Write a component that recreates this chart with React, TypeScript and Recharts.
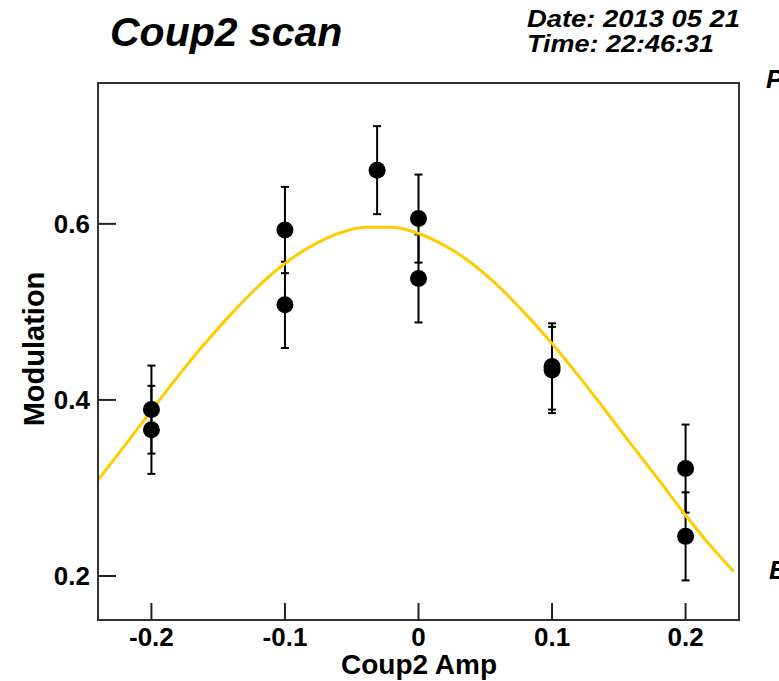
import React from "react";
import { ComposedChart, Line, Scatter, ErrorBar, XAxis, YAxis, ReferenceArea } from "recharts";

// scan points (Coup2 amplitude vs modulation)
const scanX = [-0.2, -0.2, -0.1, -0.1, -0.031, 0, 0, 0.1, 0.1, 0.2, 0.2];
const modulation = [0.389, 0.366, 0.593, 0.508, 0.661, 0.606, 0.538, 0.438, 0.434, 0.322, 0.245];
const modErr = [0.05, 0.05, 0.049, 0.049, 0.05, 0.05, 0.05, 0.049, 0.049, 0.05, 0.05];

// fitted curve
const fitX = [
  -0.24, -0.22, -0.2, -0.18, -0.16, -0.14, -0.12, -0.1, -0.08, -0.06, -0.04, -0.02,
  0, 0.02, 0.04, 0.06, 0.08, 0.1, 0.12, 0.14, 0.16, 0.18, 0.2, 0.22, 0.236,
];
const fitY = [
  0.309, 0.348, 0.388, 0.427, 0.464, 0.498, 0.529, 0.555, 0.575, 0.589, 0.596, 0.596,
  0.589, 0.575, 0.555, 0.529, 0.498, 0.464, 0.427, 0.388, 0.348, 0.309, 0.269, 0.232, 0.205,
];

const xTicks = [-0.2, -0.1, 0, 0.1, 0.2];
const yTicks = [0.2, 0.4, 0.6];
const xDomain: [number, number] = [-0.24, 0.24];
const yDomain: [number, number] = [0.15, 0.76];

const points = scanX.map((x, i) => ({ x, y: modulation[i], err: modErr[i] }));
const fitData = fitX.map((x, i) => ({ x, fit: fitY[i] }));

const FONT = "'Liberation Sans', Arial, Helvetica, sans-serif";
const FRAME = "#333";
const tickStyle = { fontSize: 26, fontWeight: 700, fill: "#000", fontFamily: FONT };

const Dot = (props: any) => <circle cx={props.cx} cy={props.cy} r={8.5} fill="#000" />;

export default function App() {
  return (
    <div style={{ position: "absolute", left: 0, top: 0, width: 779, height: 681, overflow: "hidden", background: "#fff" }}>
      <ComposedChart width={779} height={681} margin={{ top: 83, right: 40, bottom: 0, left: 0 }}>
        <XAxis
          dataKey="x"
          type="number"
          domain={xDomain}
          ticks={xTicks}
          tickFormatter={(v: number) => String(v)}
          height={61}
          tickSize={-17}
          tickMargin={25}
          tick={tickStyle}
          axisLine={{ stroke: FRAME, strokeWidth: 2 }}
          tickLine={{ stroke: "#222", strokeWidth: 2 }}
          allowDataOverflow
        />
        <YAxis
          type="number"
          domain={yDomain}
          ticks={yTicks}
          width={98}
          tickSize={-18}
          tickMargin={26}
          tick={tickStyle}
          axisLine={{ stroke: FRAME, strokeWidth: 2 }}
          tickLine={{ stroke: "#222", strokeWidth: 2 }}
          allowDataOverflow
        />
        {/* frame box around the pad */}
        <ReferenceArea
          x1={xDomain[0]}
          x2={xDomain[1]}
          y1={yDomain[0]}
          y2={yDomain[1]}
          fill="none"
          fillOpacity={0}
          stroke={FRAME}
          strokeWidth={2}
          ifOverflow="visible"
        />
        <Scatter data={points} dataKey="y" shape={Dot} isAnimationActive={false}>
          <ErrorBar dataKey="err" direction="y" width={4} stroke="#000" strokeWidth={2} isAnimationActive={false} />
        </Scatter>
        <Line
          data={fitData}
          dataKey="fit"
          type="monotone"
          stroke="#ffcc00"
          strokeWidth={3}
          dot={false}
          activeDot={false}
          isAnimationActive={false}
        />
      </ComposedChart>
      <svg
        width={779}
        height={681}
        style={{ position: "absolute", left: 0, top: 0, pointerEvents: "none" }}
        fontFamily={FONT}
        fontWeight={700}
        fontStyle="italic"
      >
        <text x={110} y={46} fontSize={41} fill="#000">Coup2 scan</text>
        <text x={527} y={27} fontSize={23} fill="#000" textLength={213} lengthAdjust="spacingAndGlyphs">
          Date: 2013 05 21
        </text>
        <text x={527} y={52} fontSize={23} fill="#000" textLength={187} lengthAdjust="spacingAndGlyphs">
          Time: 22:46:31
        </text>
        <text x={766} y={88} fontSize={26} fill="#000">P</text>
        <text x={769} y={579} fontSize={26} fill="#000">E</text>
        <text x={419} y={674} fontSize={28} fill="#000" fontStyle="normal" textAnchor="middle">
          Coup2 Amp
        </text>
        <text
          transform="translate(44,349) rotate(-90)"
          fontSize={29}
          fill="#000"
          fontStyle="normal"
          textAnchor="middle"
        >
          Modulation
        </text>
      </svg>
    </div>
  );
}
